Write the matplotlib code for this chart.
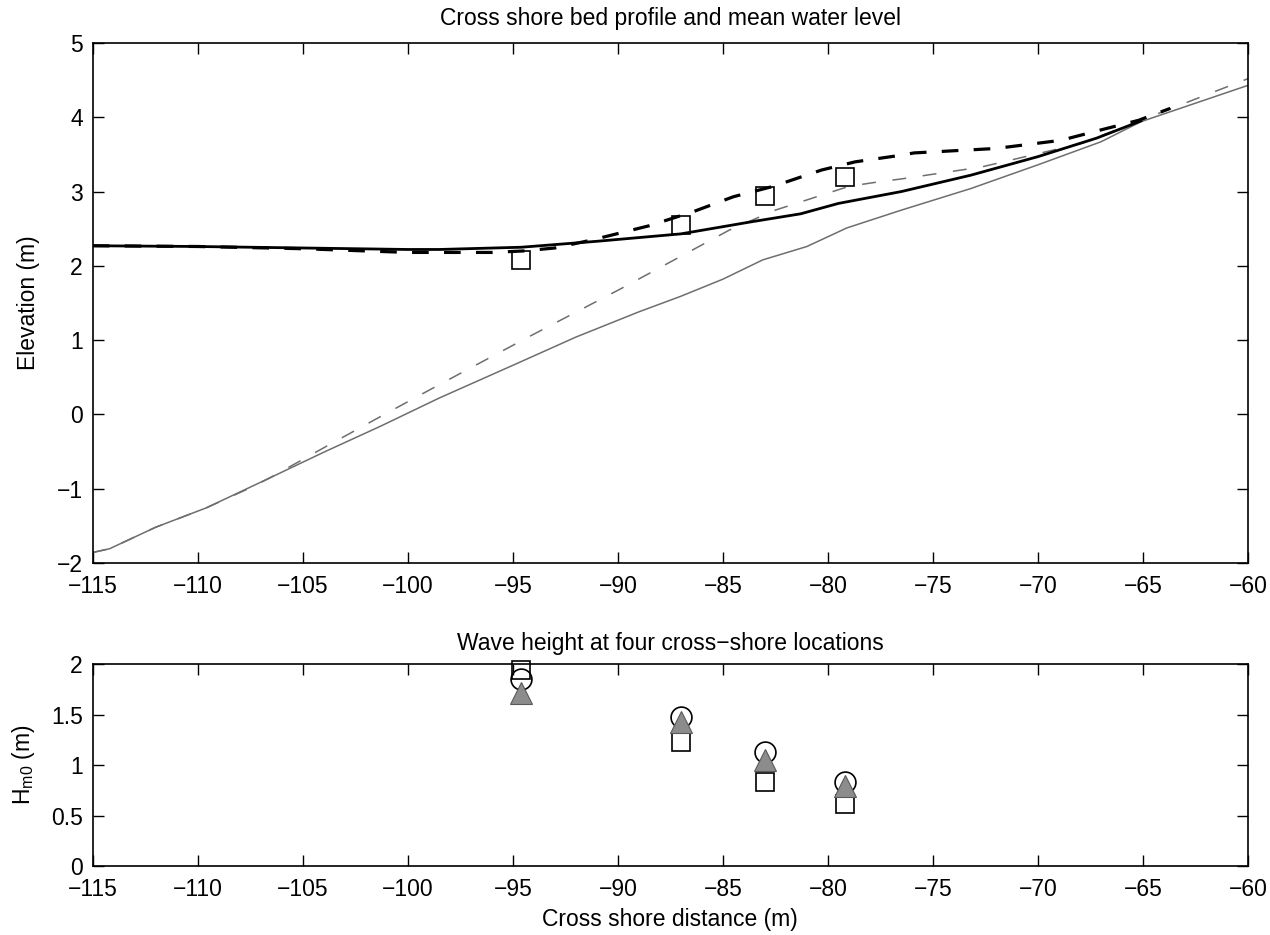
import matplotlib
matplotlib.use("Agg")
import matplotlib.pyplot as plt

plt.rcParams['font.family'] = ['Liberation Sans', 'DejaVu Sans']
plt.rcParams['font.size'] = 16.5
plt.rcParams['lines.scale_dashes'] = False

# --- bed profiles (m) ---
bed0_x = [-115, -114.2, -112, -109.6, -106.6, -104, -101.3, -98.5, -95, -92, -89, -87,
          -85, -83.1, -81, -79.1, -76.5, -73.2, -70, -67, -65.1, -62.5, -60]
bed0_z = [-1.86, -1.81, -1.52, -1.26, -0.86, -0.51, -0.16, 0.22, 0.66, 1.04, 1.38, 1.59,
          1.82, 2.08, 2.26, 2.51, 2.75, 3.04, 3.36, 3.67, 3.94, 4.19, 4.43]

bed1_x = [-115, -114.2, -112, -109.6, -107.5, -106.6, -104, -101.3, -98.5, -94.2, -89.8,
          -84.7, -82.5, -79.0, -77.6, -76.5, -72.7, -67.9, -65.1, -60]
bed1_z = [-1.86, -1.81, -1.52, -1.26, -0.99, -0.86, -0.45, -0.03, 0.40, 1.05, 1.70,
          2.48, 2.75, 3.07, 3.13, 3.17, 3.33, 3.65, 3.96, 4.52]

# --- mean water level (m) ---
wl_mod_x = [-115, -110, -105, -100, -98.5, -94.6, -91, -87, -83.7, -81.3, -79.5, -76.5,
            -73.2, -70, -67.2, -65.1]
wl_mod_z = [2.27, 2.26, 2.24, 2.22, 2.22, 2.25, 2.33, 2.43, 2.59, 2.70, 2.84, 3.00,
            3.22, 3.47, 3.72, 3.95]

wl_mod2_x = [-115, -110, -105, -102, -100, -98.5, -96, -94.5, -93, -91.2, -88.5, -86.4,
             -84.5, -82.6, -80.3, -78.7, -76.5, -75.9, -72.0, -68.9, -67.0, -65.2, -63.7]
wl_mod2_z = [2.27, 2.26, 2.23, 2.20, 2.18, 2.18, 2.18, 2.20, 2.24, 2.35, 2.54, 2.73,
             2.93, 3.07, 3.29, 3.40, 3.49, 3.52, 3.58, 3.69, 3.83, 3.96, 4.12]

# --- measurements at four gauges ---
gauge_x = [-94.6, -87.0, -83.0, -79.2]
wl_obs = [2.08, 2.55, 2.94, 3.20]
hm0_obs = [1.94, 1.23, 0.83, 0.61]
hm0_mod1 = [1.85, 1.48, 1.13, 0.83]
hm0_mod2 = [1.71, 1.43, 1.05, 0.79]

gray = '#6e6e6e'

fig = plt.figure(figsize=(12.7, 9.35), dpi=100)
ax1 = fig.add_axes([0.073, 0.398, 0.9097, 0.556])
ax2 = fig.add_axes([0.073, 0.0738, 0.9097, 0.216])

ax1.plot(bed0_x, bed0_z, color=gray, lw=1.1)
ax1.plot(bed1_x, bed1_z, color=gray, lw=1.1, dashes=(10, 12))
ax1.plot(wl_mod_x, wl_mod_z, color='k', lw=2.0)
ax1.plot(wl_mod2_x, wl_mod2_z, color='k', lw=2.3, dashes=(12, 11))
ax1.plot(gauge_x, wl_obs, 's', ms=13, mfc='none', mec='k', mew=1.2)
ax1.set_xlim(-115, -60)
ax1.set_ylim(-2, 5)
ax1.set_xticks(range(-115, -59, 5))
ax1.set_yticks(range(-2, 6))
ax1.set_ylabel('Elevation (m)', labelpad=12)
ax1.set_title('Cross shore bed profile and mean water level', fontsize=16.5, pad=13)

ax2.plot(gauge_x, hm0_obs, 's', ms=12.5, mfc='none', mec='k', mew=1.2, clip_on=False)
ax2.plot(gauge_x, hm0_mod1, 'o', ms=15, mfc='none', mec='k', mew=1.2, clip_on=False)
ax2.plot(gauge_x, hm0_mod2, '^', ms=16.5, mfc='#8c8c8c', mec='#5a5a5a', mew=0.8, clip_on=False)
ax2.set_xlim(-115, -60)
ax2.set_ylim(0, 2)
ax2.set_xticks(range(-115, -59, 5))
ax2.set_yticks([0, 0.5, 1, 1.5, 2])
ax2.set_yticklabels(['0', '0.5', '1', '1.5', '2'])
ax2.set_xlabel('Cross shore distance (m)', labelpad=5)
ax2.set_ylabel(r'$\mathregular{H_{m0}}$ (m)', labelpad=10)
ax2.set_title('Wave height at four cross\u2212shore locations', fontsize=16.5, pad=10)

for ax in (ax1, ax2):
    ax.tick_params(direction='in', length=8, width=1, top=True, right=True,
                   labelsize=16.5)
    ax.tick_params(axis='x', pad=9)
    ax.tick_params(axis='y', pad=7)
    for s in ax.spines.values():
        s.set_linewidth(1.2)

fig.savefig('out.png', dpi=100)
